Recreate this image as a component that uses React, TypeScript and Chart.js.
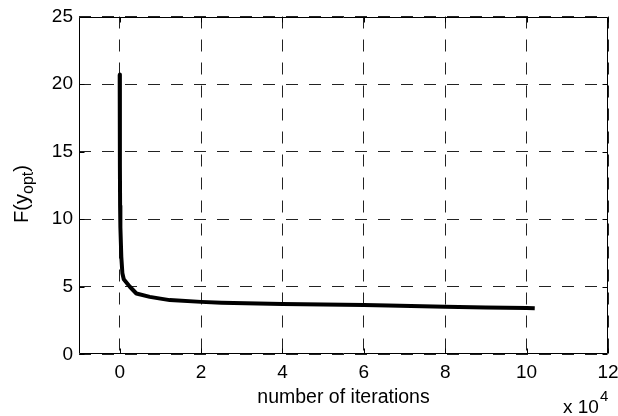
import React, { useEffect, useRef } from "react";
import { Chart, registerables } from "chart.js";

Chart.register(...registerables);

// iterations in units of 10^4
const iterations = [0, 0.005, 0.01, 0.017, 0.04, 0.066, 0.1, 0.25, 0.41, 0.74, 1.0, 1.23, 2.0, 2.5, 4.0, 5.0, 6.0, 6.6, 8.0, 9.0, 10.0, 10.2];
const fValues = [20.7, 14.0, 11.0, 9.4, 7.2, 6.0, 5.55, 5.0, 4.5, 4.25, 4.12, 4.01, 3.88, 3.82, 3.72, 3.68, 3.64, 3.62, 3.52, 3.47, 3.42, 3.4];
const xTicks = [0, 2, 4, 6, 8, 10, 12];
const yTicks = [0, 5, 10, 15, 20, 25];
const xLabel = "number of iterations";
const yLabelMain = "F(y";
const yLabelSub = "opt";
const yLabelEnd = ")";
const xMultiplier = "x 10";
const xExponent = "4";

const FONT = "'Liberation Sans', Arial, sans-serif";

const matlabAxes = {
  id: "matlabAxes",
  afterDraw(chart: any) {
    const { ctx, chartArea: a, scales } = chart;
    ctx.save();
    ctx.strokeStyle = "#000";
    ctx.lineWidth = 1;
    const L = Math.round(a.left) + 0.5;
    const R = Math.round(a.right) - 0.5;
    const T = Math.round(a.top) + 0.5;
    const B = Math.round(a.bottom) - 0.5;
    ctx.beginPath();
    ctx.rect(L, T, R - L, B - T);
    // inward ticks
    const tl = 5;
    for (const v of xTicks) {
      const px = Math.round(scales.x.getPixelForValue(v)) + 0.5;
      ctx.moveTo(px, B);
      ctx.lineTo(px, B - tl);
      ctx.moveTo(px, T);
      ctx.lineTo(px, T + tl);
    }
    for (const v of yTicks) {
      const py = Math.round(scales.y.getPixelForValue(v)) + 0.5;
      ctx.moveTo(L, py);
      ctx.lineTo(L + tl, py);
      ctx.moveTo(R, py);
      ctx.lineTo(R - tl, py);
    }
    ctx.stroke();

    // y label with subscript
    ctx.fillStyle = "#000";
    const mainFont = `20px ${FONT}`;
    const subFont = `16px ${FONT}`;
    ctx.font = mainFont;
    const w1 = ctx.measureText(yLabelMain).width;
    const w3 = ctx.measureText(yLabelEnd).width;
    ctx.font = subFont;
    const w2 = ctx.measureText(yLabelSub).width;
    const total = w1 + w2 + w3;
    const cy = 194;
    ctx.save();
    ctx.translate(28, cy);
    ctx.rotate(-Math.PI / 2);
    ctx.textBaseline = "alphabetic";
    ctx.textAlign = "left";
    let x0 = -total / 2;
    ctx.font = mainFont;
    ctx.fillText(yLabelMain, x0, 0);
    x0 += w1;
    ctx.font = subFont;
    ctx.fillText(yLabelSub, x0, 5);
    x0 += w2;
    ctx.font = mainFont;
    ctx.fillText(yLabelEnd, x0, 0);
    ctx.restore();

    // x 10^4
    ctx.textBaseline = "alphabetic";
    ctx.textAlign = "left";
    ctx.font = `19px ${FONT}`;
    const mx = 563;
    ctx.fillText(xMultiplier, mx, 413);
    const mw = ctx.measureText(xMultiplier).width;
    ctx.font = `15px ${FONT}`;
    ctx.fillText(xExponent, mx + mw + 1, 401);
    ctx.restore();
  },
};

export default function App() {
  const canvasRef = useRef<HTMLCanvasElement | null>(null);

  useEffect(() => {
    const canvas = canvasRef.current;
    if (!canvas) return;
    const points = iterations.map((x, i) => ({ x, y: fValues[i] }));
    const gridDash = [12, 11];
    const chart = new Chart(canvas, {
      type: "line",
      data: {
        datasets: [
          {
            data: points,
            borderColor: "#000",
            borderWidth: 4,
            pointRadius: 0,
            tension: 0,
            fill: false,
            borderJoinStyle: "round",
          },
        ],
      },
      options: {
        animation: false,
        responsive: false,
        devicePixelRatio: 1,
        layout: { padding: { top: 16.5, right: 10, left: 0, bottom: 0 } },
        plugins: { legend: { display: false }, tooltip: { enabled: false } },
        scales: {
          x: {
            type: "linear",
            min: -1,
            max: 12,
            afterBuildTicks: (scale: any) => {
              scale.ticks = xTicks.map((v) => ({ value: v }));
            },
            afterFit: (scale: any) => {
              scale.height = 61.7;
              scale.paddingLeft = 0;
              scale.paddingRight = 0;
            },
            grid: { color: "#222", lineWidth: 1, drawTicks: false },
            border: { display: false, dash: gridDash },
            ticks: {
              color: "#000",
              font: { family: FONT, size: 19 },
              padding: 7,
              maxRotation: 0,
              autoSkip: false,
            },
            title: {
              display: true,
              text: xLabel,
              color: "#000",
              font: { family: FONT, size: 19.5 },
              padding: { top: 0, bottom: 7 },
            },
          },
          y: {
            type: "linear",
            min: 0,
            max: 25,
            afterBuildTicks: (scale: any) => {
              scale.ticks = yTicks.map((v) => ({ value: v }));
            },
            afterFit: (scale: any) => {
              scale.width = 79;
              scale.paddingTop = 0;
              scale.paddingBottom = 0;
            },
            grid: { color: "#222", lineWidth: 1, drawTicks: false },
            border: { display: false, dash: gridDash },
            ticks: {
              color: "#000",
              font: { family: FONT, size: 19 },
              padding: 6,
            },
          },
        },
      },
      plugins: [matlabAxes],
    } as any);
    return () => chart.destroy();
  }, []);

  return (
    <div style={{ position: "fixed", left: 0, top: 0, width: 618, height: 416, background: "#fff" }}>
      <canvas ref={canvasRef} width={618} height={416} style={{ width: 618, height: 416, display: "block" }} />
    </div>
  );
}
